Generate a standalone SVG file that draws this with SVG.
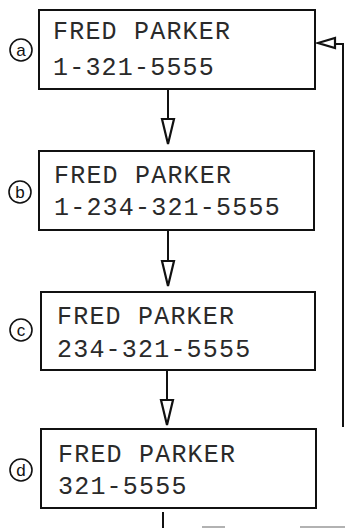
<svg xmlns="http://www.w3.org/2000/svg" width="347" height="528" viewBox="0 0 347 528">
<style>
.box{fill:#fff;stroke:#111;stroke-width:2}
.t{font-family:"Liberation Mono","Courier New",monospace;font-size:25px;letter-spacing:1.2px;fill:#2a2a2a}
.c{fill:#fff;stroke:#111;stroke-width:1.6}
.cl{font-family:"Liberation Sans",Arial,sans-serif;font-size:17px;fill:#111;text-anchor:middle}
.ln{fill:none;stroke:#111;stroke-width:2}
.ah{fill:#fff;stroke:#111;stroke-width:2.2;stroke-linejoin:miter}
.g{stroke:#999;stroke-width:1.5}
</style>
<rect width="347" height="528" fill="#fff"/>
<g id="connectors">
<line class="ln" x1="168" y1="89" x2="168" y2="119"/>
<polygon class="ah" points="162,119 174,119 168,144"/>
<line class="ln" x1="168" y1="230" x2="168" y2="261"/>
<polygon class="ah" points="162,261 174,261 168,286"/>
<line class="ln" x1="167" y1="370" x2="167" y2="400"/>
<polygon class="ah" points="161,400 173,400 167,425"/>
<line class="ln" x1="163" y1="512" x2="163" y2="528"/>
<path class="ln" d="M335,44 H343 V427"/>
<polygon class="ah" points="318,43 335,38 335,48"/>
<line class="g" x1="202" y1="527" x2="225" y2="527"/>
<line class="g" x1="300" y1="527" x2="345" y2="527"/>
</g>
<g id="node-a">
<rect class="box" x="39" y="10" width="276" height="79"/>
<text class="t" x="53" y="39">FRED PARKER</text>
<text class="t" x="53" y="75">1-321-5555</text>
<circle class="c" cx="21" cy="50" r="11"/>
<text class="cl" x="21" y="56">a</text>
</g>
<g id="node-b">
<rect class="box" x="39" y="151" width="275" height="79"/>
<text class="t" x="54" y="183">FRED PARKER</text>
<text class="t" x="54" y="215">1-234-321-5555</text>
<circle class="c" cx="20" cy="192" r="11"/>
<text class="cl" x="20" y="198">b</text>
</g>
<g id="node-c">
<rect class="box" x="41" y="292" width="274" height="78"/>
<text class="t" x="57" y="324">FRED PARKER</text>
<text class="t" x="57" y="357">234-321-5555</text>
<circle class="c" cx="21" cy="330" r="11"/>
<text class="cl" x="21" y="336">c</text>
</g>
<g id="node-d">
<rect class="box" x="41" y="429" width="275" height="79"/>
<text class="t" x="58" y="462">FRED PARKER</text>
<text class="t" x="58" y="494">321-5555</text>
<circle class="c" cx="21" cy="470" r="11"/>
<text class="cl" x="21" y="476">d</text>
</g>
</svg>
